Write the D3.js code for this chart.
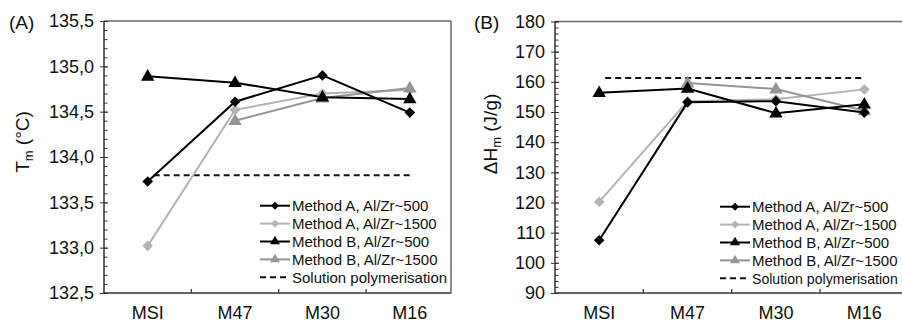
<!DOCTYPE html>
<html><head><meta charset="utf-8">
<script src="https://cdn.jsdelivr.net/npm/d3@7"></script>
<style>body{margin:0;background:#fff}svg{display:block}</style>
</head><body>
<svg id="c" width="902" height="322"></svg>
<script>
const categories = ["MSI", "M47", "M30", "M16"];
const seriesNames = ["Method A, Al/Zr~500", "Method A, Al/Zr~1500", "Method B, Al/Zr~500", "Method B, Al/Zr~1500"];
const solutionName = "Solution polymerisation";

// Panel A: Tm (°C)
const tmA500 = [133.73, 134.61, 134.90, 134.49];
const tmA1500 = [133.02, 134.52, 134.70, 134.74];
const tmB500 = [134.89, 134.82, 134.66, 134.64];
const tmB1500 = [null, 134.40, 134.65, 134.76];
const tmSolution = 133.8;
const tmTicks = [132.5, 133.0, 133.5, 134.0, 134.5, 135.0, 135.5];

// Panel B: ΔHm (J/g)
const dhA500 = [107.5, 153.2, 153.6, 149.8];
const dhA1500 = [120.2, 153.6, 154.2, 157.5];
const dhB500 = [156.4, 157.8, 149.6, 152.6];
const dhB1500 = [null, 159.6, 157.6, 150.4];
const dhSolution = 161.3;
const dhTicks = [90, 100, 110, 120, 130, 140, 150, 160, 170, 180];

const styles = [
  {color: "#000", sym: d3.symbolDiamond2, size: 72},
  {color: "#b4b4b4", sym: d3.symbolDiamond2, size: 72},
  {color: "#000", sym: d3.symbolTriangle, size: 78},
  {color: "#959595", sym: d3.symbolTriangle, size: 78}
];
const FONT = "'Liberation Sans', Arial, Helvetica, sans-serif";
const svg = d3.select("#c");

function panel(opt) {
  const {left, right, top, bottom, xEnd, domain, ticks, minorStep, fmt, series, solution, label, labelX, titleX, titleY, titleParts, legendX, legendY} = opt;
  const g = svg.append("g");
  const x = d3.scaleBand().domain(categories).range([left, right]).padding(0);
  const y = d3.scaleLinear().domain(domain).range([bottom, top]);

  // frame
  g.append("line").attr("x1", left).attr("x2", xEnd).attr("y1", top).attr("y2", top).attr("stroke", "#6a6a6a").attr("stroke-width", 1.5);
  if (opt.rightBorder) g.append("line").attr("x1", xEnd).attr("x2", xEnd).attr("y1", top).attr("y2", bottom).attr("stroke", "#6a6a6a").attr("stroke-width", 1.5);
  g.append("line").attr("x1", left).attr("x2", xEnd).attr("y1", bottom).attr("y2", bottom).attr("stroke", "#333").attr("stroke-width", 1.5);

  // minor ticks
  const minor = d3.range(domain[0], domain[1] + minorStep / 2, minorStep);
  const minorAxis = d3.axisLeft(y).tickValues(minor).tickSize(-3.5).tickFormat("");
  const mg = g.append("g").attr("transform", `translate(${left},0)`).call(minorAxis);
  mg.select(".domain").remove();
  mg.selectAll("line").attr("stroke", "#333");

  // major axis
  const ax = d3.axisLeft(y).tickValues(ticks).tickSize(4).tickPadding(6).tickFormat(fmt);
  const ag = g.append("g").attr("transform", `translate(${left},0)`).call(ax);
  ag.select(".domain").attr("stroke", "#333").attr("stroke-width", 1.5).attr("d", `M0,${bottom}V${top}`);
  ag.selectAll(".tick line").attr("x1", -4).attr("x2", 4).attr("stroke", "#333");
  ag.selectAll("text").attr("font-family", FONT).attr("font-size", 18).attr("fill", "#111");

  // x band boundary ticks
  g.selectAll(".xb").data(categories.slice(1)).join("line")
    .attr("x1", d => x(d)).attr("x2", d => x(d)).attr("y1", bottom - 4).attr("y2", bottom)
    .attr("stroke", "#333").attr("stroke-width", 1.2);
  g.selectAll(".xl").data(categories).join("text")
    .attr("x", d => x(d) + x.bandwidth() / 2).attr("y", 319)
    .attr("text-anchor", "middle").attr("font-family", FONT).attr("font-size", 18).attr("fill", "#111").text(d => d);

  const cx = d => x(d) + x.bandwidth() / 2;

  // solution dashed line
  g.append("line").attr("x1", cx(categories[0]) + 6).attr("x2", cx(categories[3]))
    .attr("y1", y(solution)).attr("y2", y(solution))
    .attr("stroke", "#111").attr("stroke-width", 2).attr("stroke-dasharray", "6,4");

  // series
  const order = [1, 3, 0, 2];
  order.forEach(i => {
    const vals = series[i];
    const pts = categories.map((c, k) => ({c, v: vals[k]})).filter(p => p.v != null);
    const line = d3.line().x(p => cx(p.c)).y(p => y(p.v));
    g.append("path").attr("d", line(pts)).attr("fill", "none").attr("stroke", styles[i].color).attr("stroke-width", 2);
    g.selectAll(null).data(pts).join("path")
      .attr("transform", p => `translate(${cx(p.c)},${y(p.v) + (styles[i].sym === d3.symbolTriangle ? 0.5 : 0)})`)
      .attr("d", d3.symbol().type(styles[i].sym).size(styles[i].size)).attr("fill", styles[i].color);
  });

  // panel label
  g.append("text").attr("x", labelX).attr("y", 29).attr("font-family", FONT).attr("font-size", 19).attr("fill", "#111").text(label);

  // y title
  const t = g.append("text").attr("transform", `translate(${titleX},${titleY}) rotate(-90)`)
    .attr("text-anchor", "middle").attr("font-family", FONT).attr("font-size", 19).attr("fill", "#111");
  t.append("tspan").text(titleParts[0]);
  t.append("tspan").attr("font-size", 13).attr("dy", 4).text(titleParts[1]);
  t.append("tspan").attr("dy", -4).text(titleParts[2]);

  // legend
  const rows = seriesNames.concat([solutionName]);
  rows.forEach((name, i) => {
    const ry = legendY + i * 17.9;
    const lg = g.append("g");
    if (i < 4) {
      lg.append("line").attr("x1", legendX).attr("x2", legendX + 30).attr("y1", ry).attr("y2", ry).attr("stroke", styles[i].color).attr("stroke-width", 2);
      lg.append("path").attr("transform", `translate(${legendX + 15},${ry})`).attr("d", d3.symbol().type(styles[i].sym).size(styles[i].size * 0.55)).attr("fill", styles[i].color);
    } else {
      lg.append("line").attr("x1", legendX).attr("x2", legendX + 30).attr("y1", ry).attr("y2", ry).attr("stroke", "#111").attr("stroke-width", 2).attr("stroke-dasharray", "6,4");
    }
    const tx = lg.append("text").attr("x", legendX + 32).attr("y", ry + 5.5).attr("font-family", FONT).attr("font-size", 15).attr("fill", "#111").text(name);
    if (opt.fitRight) {
      const w = tx.node().getComputedTextLength();
      const avail = opt.fitRight - (legendX + 32);
      if (w > avail) tx.attr("font-size", Math.floor(15 * avail / w * 10) / 10);
    }
  });
}

const fmtComma = d => d3.format(".1f")(d).replace(".", ",");

panel({left: 104, right: 453.5, top: 21, bottom: 293, xEnd: 451, rightBorder: true,
  domain: [132.5, 135.5], ticks: tmTicks, minorStep: 0.1, fmt: fmtComma,
  series: [tmA500, tmA1500, tmB500, tmB1500], solution: tmSolution,
  label: "(A)", labelX: 9, titleX: 29, titleY: 142, titleParts: ["T", "m", " (°C)"],
  legendX: 260, legendY: 205.7});

panel({left: 555, right: 908.5, top: 21.5, bottom: 293, xEnd: 902, rightBorder: false,
  domain: [90, 180], ticks: dhTicks, minorStep: 2, fmt: d3.format("d"),
  series: [dhA500, dhA1500, dhB500, dhB1500], solution: dhSolution,
  label: "(B)", labelX: 474, titleX: 497, titleY: 134, titleParts: ["ΔH", "m", " (J/g)"],
  legendX: 720, legendY: 206.7, fitRight: 898});
</script>
</body></html>
